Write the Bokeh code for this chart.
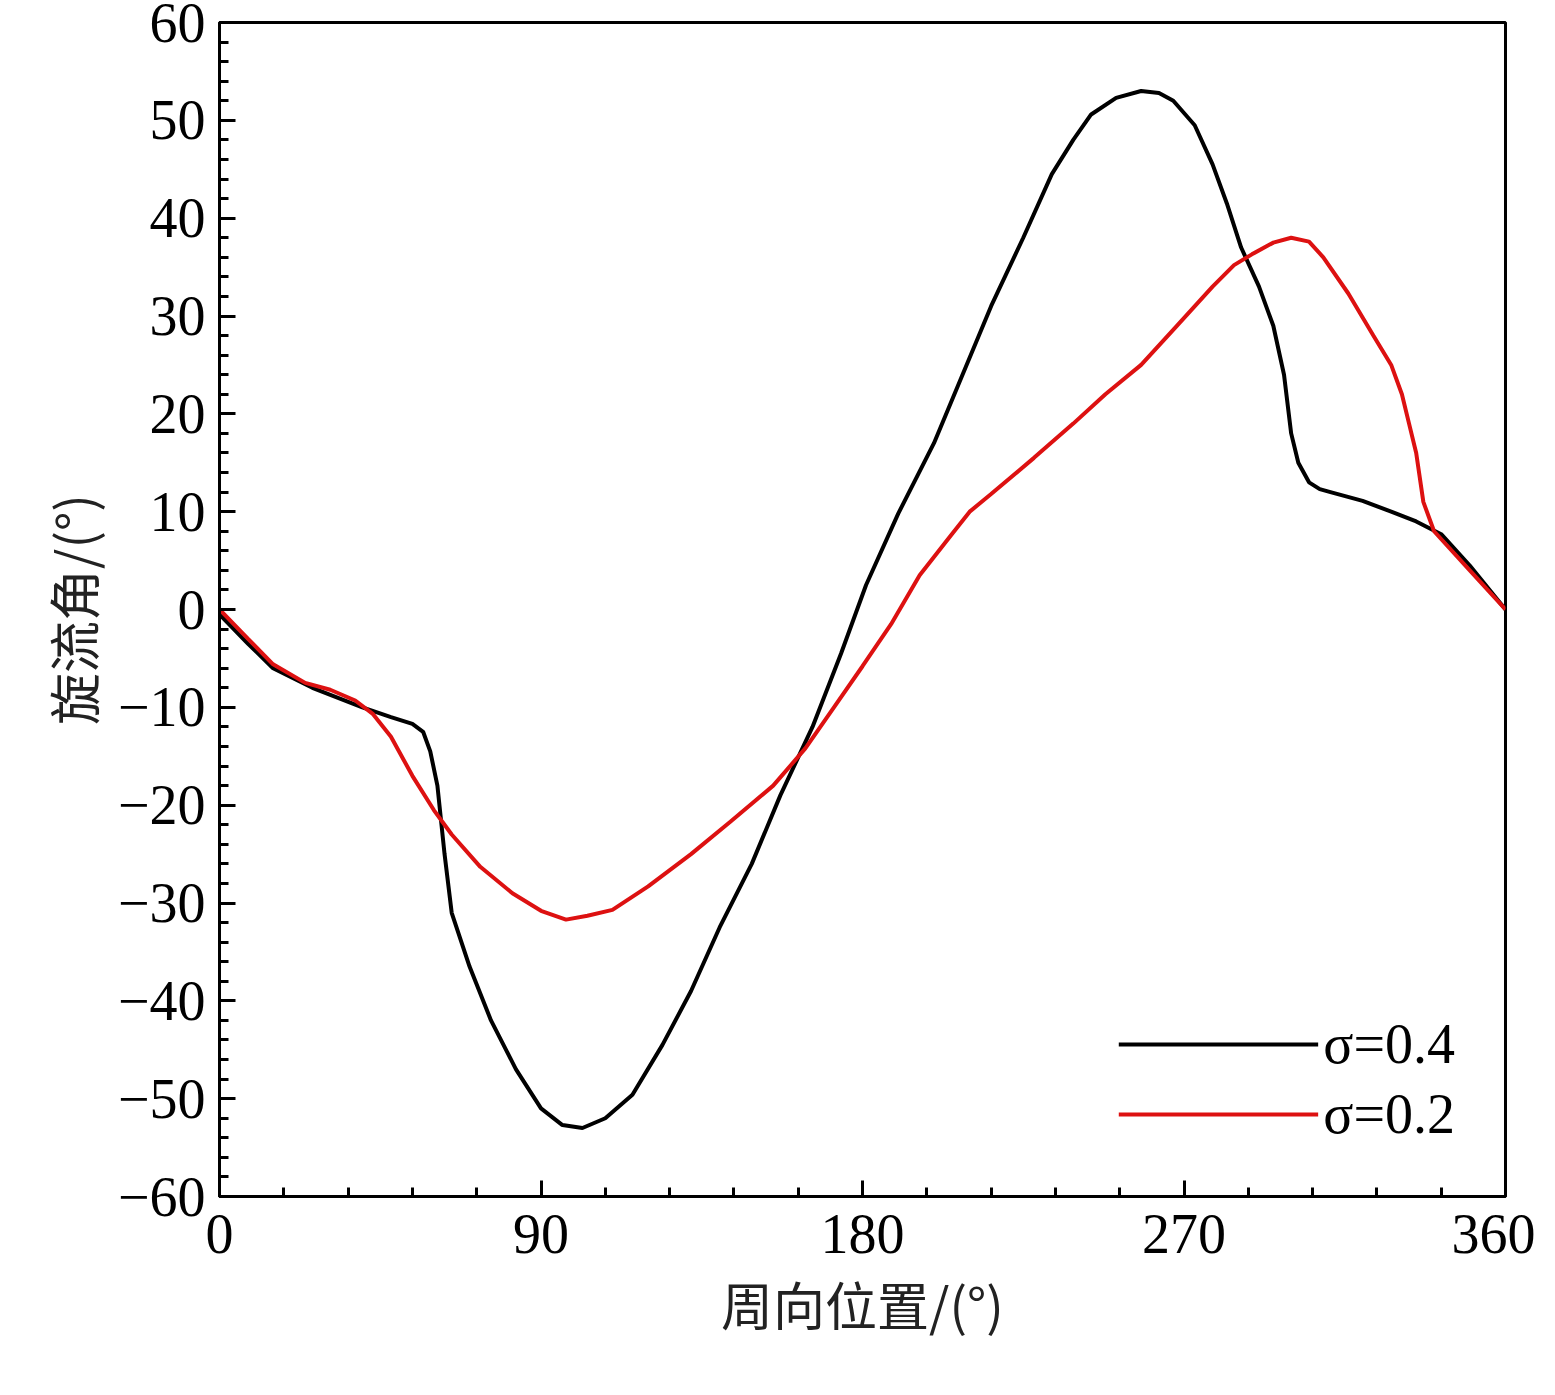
from bokeh.plotting import figure
from bokeh.models import FixedTicker, Legend, LegendItem, Range1d
from bokeh.embed import file_html
from bokeh.resources import INLINE

x_black = [0,8,15,26,40,48,54,57,59,61,63,65,70,76,83,90,96,101.6,108,115.6,124,132,140,149,157,166,174,181,190,200,208,216,225,233,239,244,251,258,263,267,273,278,282,286,291,295,298,300,302,305,308,311,320,328,335,342,350,360]
y_black = [-0.5,-3.5,-6,-8,-10,-11,-11.7,-12.5,-14.5,-18,-25,-31,-36.5,-42,-47,-51,-52.7,-53,-52,-49.6,-44.5,-39,-32.5,-26,-19,-12,-4.5,2.5,9.8,17,24,31,38,44.5,48,50.6,52.3,53,52.8,52,49.5,45.5,41.5,37,33,29,24,18,15,13,12.3,12,11.1,10,9,7.7,4.5,0]
x_red = [0,8,15,24,31,38,43,48,54,60,65,73,82,90,97,103,110,120,132,143,155,164,172,180,188,196,205,210,216,228,239,248,258,268,278,284,289,295,300,305,309,316,323,328,331,333,335,337,340,350,360]
y_red = [0,-3,-5.6,-7.5,-8.2,-9.3,-10.7,-13,-17,-20.5,-23,-26.3,-29,-30.8,-31.7,-31.3,-30.7,-28.3,-25,-21.7,-18,-14.2,-10,-5.8,-1.5,3.5,7.7,10,11.8,15.5,19,22,25,29,33,35.2,36.3,37.5,38,37.6,36,32.3,28,25,22,19,16,11,8,4,0]
x_ticks = [0,90,180,270,360]
y_ticks = list(range(-60,61,10))

FONT = "Liberation Serif"
p = figure(output_backend="svg", toolbar_location=None, frame_width=1286, frame_height=1174,
           min_border_left=219, min_border_top=22, min_border_right=30,
           x_range=Range1d(0,360), y_range=Range1d(-60,60))
p.background_fill_color = "white"
p.grid.visible = False
p.outline_line_color = "black"; p.outline_line_width = 3

l1 = p.line(x_black, y_black, line_color="black", line_width=4)
l2 = p.line(x_red, y_red, line_color="#dd1111", line_width=4)

p.xaxis.ticker = FixedTicker(ticks=x_ticks, minor_ticks=list(range(0,361,18)))
p.yaxis.ticker = FixedTicker(ticks=y_ticks, minor_ticks=list(range(-60,61,2)))
for ax in (p.xaxis, p.yaxis):
    ax.axis_line_width = 3
    ax.major_tick_in = 16; ax.major_tick_out = 0
    ax.minor_tick_in = 9; ax.minor_tick_out = 0
    ax.major_tick_line_width = 3; ax.minor_tick_line_width = 3
    ax.major_label_text_font = FONT
    ax.major_label_text_font_size = "56px"
    ax.major_label_text_color = "black"
    ax.axis_label_text_font = "Noto Sans CJK SC"
    ax.axis_label_text_font_size = "52px"
    ax.axis_label_text_font_style = "normal"
    ax.axis_label_text_color = "#222222"
p.xaxis.major_label_standoff = 18
p.yaxis.major_label_standoff = 14
p.xaxis.axis_label_standoff = 10
p.xaxis.axis_label = "周向位置/(°)"
p.yaxis.axis_label = "旋流角/(°)"

legend = Legend(items=[LegendItem(label="σ=0.4", renderers=[l1]), LegendItem(label="σ=0.2", renderers=[l2])],
                location="bottom_right", glyph_width=200, glyph_height=60, label_text_font=FONT,
                label_text_font_size="56px", label_text_color="black", border_line_color=None,
                background_fill_alpha=0, spacing=6, margin=50)
p.add_layout(legend)

open("out.html","w").write(file_html(p, INLINE))
